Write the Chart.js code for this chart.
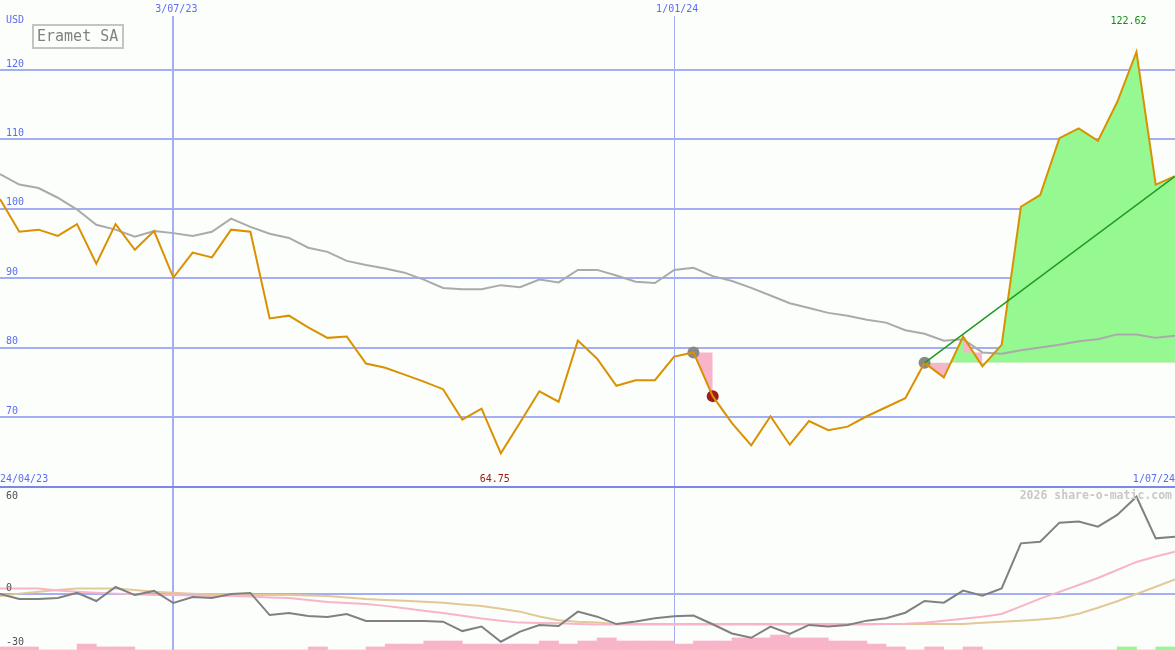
<!DOCTYPE html>
<html>
<head>
<meta charset="utf-8">
<title>Eramet SA</title>
<script src="https://cdn.jsdelivr.net/npm/chart.js@4.4.1/dist/chart.umd.min.js"></script>
<style>
    body { margin: 0; background: #fcfefc; }
    #wrap { position: relative; width: 1175px; height: 650px; overflow: hidden; }
    #price-chart { position: absolute; left: 0; top: 0; }
    #osc-chart { position: absolute; left: 0; top: 470px; }
</style>
</head>
<body>
<div id="wrap">
    <canvas id="price-chart" width="1175" height="487"></canvas>
    <canvas id="osc-chart" width="1175" height="180"></canvas>
</div>
<script>
const STOCK_NAME = 'Eramet SA'
const CURRENCY = 'USD'
const WATERMARK = '2026 share-o-matic.com'

// weekly points, index 0 .. 61
const dateTicks = [9, 35]
const dateLabels = ['3/07/23', '1/01/24']
const edgeTicks = [0, 61]
const edgeLabels = ['24/04/23', '1/07/24']
const priceTicks = [70, 80, 90, 100, 110, 120]
const oscTicks = [60, 0, -30]

const price = [
    101.4, 96.7, 97.0, 96.1, 97.8, 92.1, 97.8, 94.1, 96.8, 90.1,
    93.7, 93.0, 97.0, 96.7, 84.2, 84.6, 82.9, 81.4, 81.6, 77.7,
    77.1, 76.1, 75.1, 74.0, 69.6, 71.2, 64.75, 69.2, 73.7, 72.2,
    81.0, 78.4, 74.5, 75.3, 75.3, 78.7, 79.3, 73.0, 69.1, 65.9,
    70.1, 66.0, 69.4, 68.1, 68.6, 70.1, 71.4, 72.7, 77.8, 75.7,
    81.6, 77.3, 80.4, 100.3, 102.0, 110.2, 111.6, 109.8, 115.4, 122.62,
    103.5, 104.7
]
const average = [
    105.0, 103.5, 103.0, 101.6, 99.9, 97.7, 97.0, 96.0, 96.8, 96.5,
    96.1, 96.7, 98.6, 97.4, 96.4, 95.8, 94.4, 93.8, 92.5, 91.9,
    91.4, 90.8, 89.8, 88.6, 88.4, 88.4, 89.0, 88.7, 89.8, 89.4,
    91.2, 91.2, 90.4, 89.5, 89.3, 91.2, 91.5, 90.3, 89.6, 88.6,
    87.5, 86.4, 85.7, 85.0, 84.6, 84.0, 83.6, 82.5, 82.0, 81.0,
    81.2, 79.3, 79.1, 79.6, 80.0, 80.4, 80.9, 81.2, 81.9, 81.9,
    81.4, 81.7
]
const oscillator = [
    0, -2.8, -2.8, -2.2, 0.6, -3.9, 3.9, -0.6, 1.7, -5,
    -1.7, -2.2, 0, 0.6, -11.7, -10.6, -12.2, -12.8, -11.1, -15,
    -15, -15, -15, -15.4, -20.6, -18.1, -26.5, -20.9, -17.2, -17.8,
    -9.8, -12.6, -16.7, -15.3, -13.5, -12.4, -12, -16.8, -21.9, -24.3,
    -18.1, -22.2, -17.2, -18.1, -17.2, -14.8, -13.5, -10.4, -3.9, -4.8,
    1.9, -0.9, 3.1, 28.1, 29, 39.6, 40.2, 37.4, 43.9, 54,
    30.9, 31.8
]
const oscFast = [
    3.1, 3.1, 3.1, 1.9, 1.3, 0.7, 0.2, -0.2, -0.5, -0.6,
    -0.8, -1.1, -1.1, -1.4, -1.9, -2.2, -3.3, -4.4, -5, -5.6,
    -6.6, -7.9, -9.3, -10.6, -12.1, -13.6, -14.8, -15.9, -16.1, -16.3,
    -16.6, -17, -17, -17, -17, -17, -17, -17, -17, -17,
    -17, -17, -17, -17, -17, -16.9, -16.7, -16.5, -16, -14.8,
    -13.8, -12.6, -11.1, -6.9, -2.6, 1.2, 5, 8.9, 13.3, 17.8,
    20.8, 23.5
]
const oscSlow = [
    -1.1, 0.2, 1.3, 2.2, 3.1, 3.1, 3.1, 2.2, 1.3, 0.7,
    0.2, -0.2, -0.2, -0.6, -0.6, -0.6, -0.9, -1.1, -1.9, -2.8,
    -3.3, -3.7, -4.3, -4.8, -5.8, -6.7, -8.2, -9.8, -12.5, -14.6,
    -15.4, -15.9, -16.7, -16.7, -16.7, -16.7, -16.7, -16.7, -16.7, -16.7,
    -16.7, -16.7, -16.7, -16.7, -16.7, -16.7, -16.7, -16.7, -16.7, -16.7,
    -16.7, -16, -15.4, -14.8, -14.1, -13.2, -11, -7.6, -4, 0,
    4, 8.1
]
// bottom histogram, negative = pink, positive = green
const histogram = [
    -1.7, -1.7, 0, 0, -3.3, -1.7, -1.7, 0, 0, 0,
    0, 0, 0, 0, 0, 0, -1.7, 0, 0, -1.7,
    -3.3, -3.3, -5, -5, -3.3, -3.3, -3.3, -3.3, -5, -3.3,
    -5, -6.7, -5, -5, -5, -3.3, -5, -5, -6.7, -6.7,
    -8.3, -6.7, -6.7, -5, -5, -3.3, -1.7, 0, -1.7, 0,
    -1.7, 0, 0, 0, 0, 0, 0, 0, 1.7, 0,
    1.7, 0
]

const signalX = [36, 37, 48]
const signalY = [79.3, 73.0, 77.8]
const trendX = [48, 61]
const trendY = [77.8, 104.7]
const lossSpan = [36, 37]
const lossBase = 79.3
const dipSpan = [50, 51]
const gainSpan = [48, 61]
const gainBase = 77.8

const BLUE = '#5b6cf2'
const GRID = '#a3aef3'
const ORANGE = '#da9100'
const PINK = '#f8b4c8'
const GREEN = '#96f890'
const FONT = { family: '"DejaVu Sans Mono", monospace', size: 10 }
const OSC_MIN = -31.1

const toPoints = arr => arr.map((y, x) => ({ x, y }))
const span = (arr, [a, b]) => arr.slice(a, b + 1).map((y, i) => ({ x: a + i, y }))

// no extra room for labels: plot area must fill the canvas
function noPadding(s) {
    s.paddingLeft = s.paddingRight = s.paddingTop = s.paddingBottom = 0
}

const priceNotes = {
    id: 'priceNotes',
    afterDraw(chart) {
        const { ctx, scales: { x } } = chart
        ctx.save()
        ctx.textBaseline = 'middle'
        ctx.font = '10px "DejaVu Sans Mono"'
        ctx.fillStyle = BLUE
        ctx.fillText(CURRENCY, 6, 20)

        ctx.strokeStyle = '#c4c4c4'
        ctx.lineWidth = 2
        ctx.strokeRect(33, 25, 90, 23)
        ctx.font = '15px "DejaVu Sans Mono"'
        ctx.fillStyle = '#808080'
        ctx.fillText(STOCK_NAME, 37, 37)

        const lo = price.indexOf(Math.min(...price))
        const hi = price.indexOf(Math.max(...price))
        ctx.font = '10px "DejaVu Sans Mono"'
        ctx.textAlign = 'center'
        ctx.fillStyle = '#a01818'
        ctx.fillText(price[lo].toFixed(2), x.getPixelForValue(lo) - 6, 479)
        ctx.fillStyle = '#109010'
        ctx.fillText(price[hi].toFixed(2), x.getPixelForValue(hi) - 8, 21)
        ctx.restore()
    }
}

const oscNotes = {
    id: 'oscNotes',
    afterDraw(chart) {
        const { ctx, chartArea, scales: { y } } = chart
        ctx.save()
        ctx.textBaseline = 'middle'
        ctx.font = '10px "DejaVu Sans Mono"'
        ctx.fillStyle = '#505050'
        oscTicks.forEach(v => {
            const py = Math.max(chartArea.top + 9, y.getPixelForValue(v) - 6)
            ctx.fillText(String(v), 6, py)
        })
        ctx.font = 'bold 11.5px "DejaVu Sans Mono"'
        ctx.fillStyle = '#c8c8c8'
        ctx.textAlign = 'right'
        ctx.fillText(WATERMARK, chartArea.right - 3, chartArea.top + 9)
        ctx.restore()
    }
}

const common = {
    responsive: false,
    animation: false,
    events: [],
    devicePixelRatio: 1,
    layout: { padding: 0, autoPadding: false },
    elements: { point: { radius: 0 }, line: { tension: 0 } },
    plugins: { legend: { display: false }, tooltip: { enabled: false } }
}

new Chart(document.querySelector('#price-chart'), {
    type: 'line',
    data: {
        datasets: [
            { data: trendX.map((x, i) => ({ x, y: trendY[i] })), borderColor: '#1f9a1f', borderWidth: 1.5, order: 0 },
            { data: toPoints(price), borderColor: ORANGE, borderWidth: 2, order: 1 },
            {
                type: 'scatter',
                data: signalX.map((x, i) => ({ x, y: signalY[i] })),
                pointRadius: 6,
                pointBorderWidth: 0,
                pointBackgroundColor: ['#888888', '#a01c1c', '#888888'],
                order: 2
            },
            { data: toPoints(average), borderColor: '#aaaaaa', borderWidth: 2, order: 3 },
            {
                data: span(price, dipSpan), borderColor: 'transparent', borderWidth: 0,
                fill: { target: { value: lossBase }, above: PINK, below: PINK }, order: 4
            },
            {
                data: span(price, gainSpan), borderColor: 'transparent', borderWidth: 0,
                fill: { target: { value: gainBase }, above: GREEN, below: PINK }, order: 5
            },
            {
                data: span(price, lossSpan), borderColor: 'transparent', borderWidth: 0,
                fill: { target: { value: lossBase }, above: PINK, below: PINK }, order: 5
            }
        ]
    },
    options: {
        ...common,
        scales: {
            x: {
                type: 'linear', position: 'top', min: 0, max: 61, offset: false,
                afterBuildTicks: s => { s.ticks = dateTicks.map(value => ({ value })) },
                afterFit: s => { s.height = 16; noPadding(s) },
                ticks: {
                    callback: v => dateLabels[dateTicks.indexOf(v)] ?? '',
                    color: BLUE, font: FONT, padding: 1, labelOffset: 3, maxRotation: 0, autoSkip: false
                },
                grid: { color: GRID, lineWidth: c => (c.tick && c.tick.value === dateTicks[0] ? 2 : 1), drawTicks: false, offset: false },
                border: { display: false }
            },
            y: {
                min: 59.9, max: 127.8,
                afterBuildTicks: s => { s.ticks = priceTicks.map(value => ({ value })) },
                afterFit: s => { s.width = 0; noPadding(s) },
                ticks: { mirror: true, padding: 6, labelOffset: -6, color: BLUE, font: FONT },
                grid: { color: GRID, lineWidth: 2, drawTicks: false },
                border: { display: false }
            }
        }
    },
    plugins: [priceNotes]
})

const bottomTicks = [...edgeTicks, ...dateTicks].sort((a, b) => a - b)

new Chart(document.querySelector('#osc-chart'), {
    type: 'line',
    data: {
        datasets: [
            { data: toPoints(oscillator), borderColor: '#808080', borderWidth: 2, order: 1 },
            { data: toPoints(oscFast), borderColor: PINK, borderWidth: 2, order: 2 },
            { data: toPoints(oscSlow), borderColor: '#e2c995', borderWidth: 2, order: 3 },
            {
                type: 'bar',
                data: histogram.map((v, i) => ({ x: i + 0.5, y: [OSC_MIN, OSC_MIN + Math.abs(v)] })),
                backgroundColor: histogram.map(v => (v > 0 ? GREEN : PINK)),
                barPercentage: 1, categoryPercentage: 1, borderWidth: 0,
                order: 9
            }
        ]
    },
    options: {
        ...common,
        scales: {
            x: {
                type: 'linear', position: 'top', min: 0, max: 61, offset: false,
                afterBuildTicks: s => { s.ticks = bottomTicks.map(value => ({ value })) },
                afterFit: s => { s.height = 17; noPadding(s) },
                ticks: {
                    callback: v => edgeLabels[edgeTicks.indexOf(v)] ?? '',
                    color: BLUE, font: FONT, padding: 2, align: 'inner', maxRotation: 0, autoSkip: false
                },
                grid: {
                    color: c => (c.tick && dateTicks.includes(c.tick.value) ? GRID : 'transparent'),
                    lineWidth: c => (c.tick && c.tick.value === dateTicks[0] ? 2 : 1),
                    drawTicks: false,
                    offset: false
                },
                border: { display: true, color: '#7a88ec', width: 2 }
            },
            y: {
                min: OSC_MIN, max: 59.4,
                afterBuildTicks: s => { s.ticks = oscTicks.map(value => ({ value })) },
                afterFit: s => { s.width = 0; noPadding(s) },
                ticks: { display: false },
                grid: { color: c => (c.tick && c.tick.value === 0 ? GRID : 'transparent'), lineWidth: 2, drawTicks: false },
                border: { display: false }
            }
        }
    },
    plugins: [oscNotes]
})
</script>
</body>
</html>
